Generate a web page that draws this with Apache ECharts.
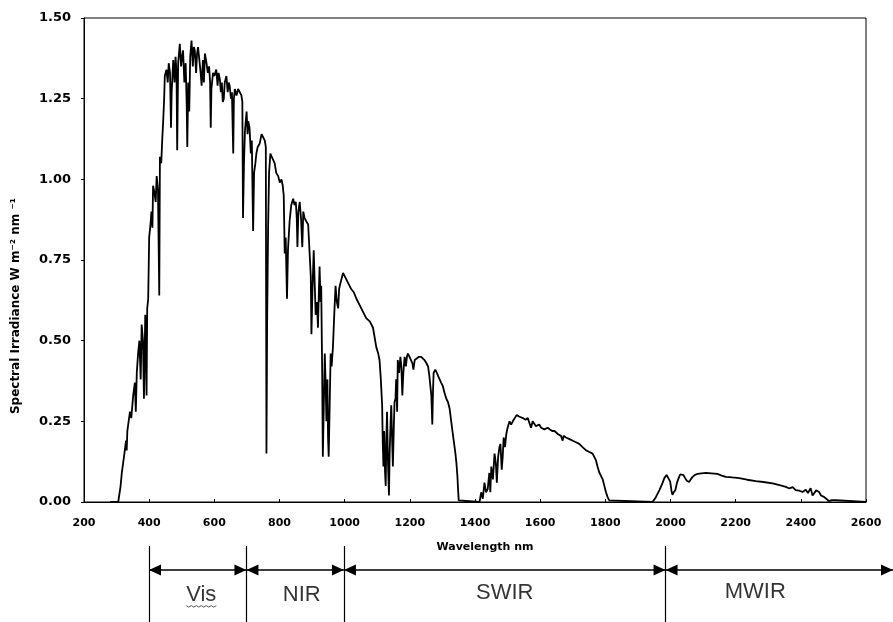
<!DOCTYPE html>
<html>
<head>
<meta charset="utf-8">
<title>Spectral irradiance</title>
<script src="https://cdn.jsdelivr.net/npm/echarts@6.0.0/dist/echarts.min.js"></script>
<style>
  html, body { margin: 0; padding: 0; background: #fff; }
  #main { width: 893px; height: 622px; }
</style>
</head>
<body>
<div id="main"></div>
<script>
// wavelength (nm) and spectral irradiance (W m-2 nm-1)
const wavelength = [
  280, 305, 312, 316, 320, 324, 329, 331, 333, 337, 341, 345, 351, 356, 359, 362, 366, 370, 374, 377,
  381, 384, 388, 392, 394, 397, 400, 404, 407, 410, 412, 416, 420, 423, 427, 431, 433, 437, 440, 443,
  446, 448, 453, 457, 460, 464, 467, 469, 474, 478, 481, 484, 486, 489, 494, 498, 501, 504, 508, 512,
  515, 517, 520, 523, 526, 530, 534, 537, 540, 544, 547, 550, 555, 558, 561, 565, 568, 571, 576, 580,
  584, 587, 589, 591, 596, 600, 606, 610, 613, 617, 620, 623, 626, 629, 632, 637, 641, 644, 647, 651,
  654, 658, 660, 663, 668, 673, 678, 683, 686, 688, 691, 694, 699, 702, 704, 708, 712, 715, 719, 722,
  726, 729, 733, 739, 745, 750, 755, 758, 760, 762, 765, 768, 772, 776, 780, 785, 790, 796, 801, 806,
  810, 813, 816, 819, 823, 826, 831, 836, 842, 846, 850, 853, 855, 858, 862, 866, 870, 873, 877, 882,
  888, 893, 896, 898, 901, 905, 908, 911, 915, 918, 921, 923, 926, 928, 931, 933, 936, 939, 942, 944,
  947, 949, 951, 954, 957, 960, 964, 968, 972, 976, 980, 983, 985, 990, 995, 1000, 1005, 1010, 1015, 1020,
  1028, 1036, 1046, 1056, 1066, 1077, 1087, 1092, 1097, 1103, 1107, 1111, 1115, 1117, 1119, 1121, 1124, 1126, 1128, 1130,
  1133, 1136, 1138, 1141, 1143, 1146, 1148, 1151, 1153, 1156, 1158, 1161, 1163, 1167, 1171, 1174, 1177, 1180, 1184, 1188,
  1191, 1194, 1199, 1204, 1208, 1211, 1215, 1220, 1228, 1235, 1240, 1245, 1251, 1256, 1260, 1263, 1266, 1269, 1271, 1273,
  1278, 1283, 1287, 1291, 1296, 1301, 1306, 1312, 1317, 1322, 1327, 1332, 1336, 1340, 1343, 1346, 1348, 1350, 1352, 1414,
  1419, 1424, 1429, 1434, 1439, 1444, 1447, 1450, 1455, 1460, 1464, 1467, 1471, 1475, 1478, 1482, 1485, 1488, 1492, 1496,
  1500, 1506, 1511, 1516, 1522, 1528, 1535, 1540, 1547, 1555, 1562, 1567, 1572, 1577, 1582, 1587, 1592, 1597, 1603, 1608,
  1613, 1618, 1623, 1630, 1637, 1644, 1650, 1655, 1659, 1664, 1669, 1672, 1679, 1685, 1690, 1695, 1700, 1710, 1720, 1730,
  1741, 1751, 1761, 1766, 1771, 1776, 1782, 1787, 1792, 1797, 1802, 1807, 1812, 1818, 1945, 1955, 1966, 1976, 1981, 1988,
  1993, 1999, 2003, 2006, 2010, 2015, 2020, 2025, 2030, 2035, 2040, 2045, 2050, 2057, 2062, 2068, 2075, 2083, 2095, 2109,
  2125, 2144, 2157, 2170, 2190, 2211, 2235, 2262, 2285, 2313, 2335, 2354, 2365, 2375, 2384, 2395, 2405, 2415, 2422, 2430,
  2436, 2440, 2447, 2452, 2456, 2462, 2471, 2478, 2486, 2495, 2507, 2512, 2600
];
const irradiance = [
  0, 0, 0.047, 0.09, 0.12, 0.15, 0.19, 0.16, 0.22, 0.25, 0.28, 0.26, 0.33, 0.37, 0.28, 0.40, 0.46, 0.50, 0.38, 0.55,
  0.50, 0.32, 0.58, 0.33, 0.60, 0.63, 0.82, 0.86, 0.90, 0.85, 0.98, 0.96, 0.93, 1.01, 0.97, 0.64, 1.07, 1.05, 1.12, 1.18,
  1.25, 1.32, 1.34, 1.30, 1.36, 1.33, 1.16, 1.27, 1.37, 1.30, 1.38, 1.33, 1.09, 1.36, 1.42, 1.35, 1.38, 1.40, 1.30, 1.36,
  1.24, 1.10, 1.30, 1.21, 1.38, 1.43, 1.35, 1.41, 1.40, 1.33, 1.39, 1.41, 1.36, 1.33, 1.29, 1.37, 1.30, 1.39, 1.36, 1.33,
  1.35, 1.30, 1.16, 1.28, 1.33, 1.32, 1.34, 1.29, 1.33, 1.31, 1.27, 1.30, 1.24, 1.25, 1.30, 1.32, 1.27, 1.30, 1.29, 1.25,
  1.27, 1.08, 1.25, 1.28, 1.26, 1.28, 1.27, 1.26, 1.24, 0.88, 1.05, 1.15, 1.21, 1.14, 1.18, 1.16, 1.08, 1.12, 0.84, 1.02,
  1.05, 1.08, 1.10, 1.11, 1.14, 1.13, 1.12, 1.10, 0.15, 0.55, 0.85, 1.02, 1.08, 1.07, 1.07, 1.05, 1.02, 1.01, 0.99, 1.00,
  0.98, 0.95, 0.77, 0.82, 0.63, 0.78, 0.87, 0.92, 0.94, 0.92, 0.93, 0.88, 0.79, 0.90, 0.93, 0.88, 0.79, 0.90, 0.88, 0.87,
  0.86, 0.86, 0.70, 0.52, 0.65, 0.78, 0.68, 0.58, 0.62, 0.54, 0.66, 0.73, 0.62, 0.67, 0.40, 0.14, 0.30, 0.46, 0.35, 0.25,
  0.38, 0.20, 0.14, 0.30, 0.46, 0.42, 0.48, 0.58, 0.67, 0.62, 0.60, 0.66, 0.67, 0.69, 0.71, 0.70, 0.69, 0.68, 0.67, 0.66,
  0.65, 0.63, 0.61, 0.59, 0.57, 0.56, 0.54, 0.51, 0.48, 0.46, 0.44, 0.38, 0.30, 0.18, 0.11, 0.22, 0.09, 0.05, 0.20, 0.28,
  0.12, 0.02, 0.15, 0.25, 0.30, 0.18, 0.11, 0.24, 0.31, 0.32, 0.38, 0.28, 0.44, 0.40, 0.45, 0.42, 0.33, 0.40, 0.45, 0.42,
  0.45, 0.46, 0.45, 0.45, 0.43, 0.41, 0.44, 0.44, 0.45, 0.45, 0.445, 0.44, 0.43, 0.42, 0.39, 0.36, 0.33, 0.24, 0.34, 0.40,
  0.41, 0.40, 0.39, 0.39, 0.37, 0.36, 0.34, 0.32, 0.31, 0.29, 0.25, 0.21, 0.18, 0.15, 0.12, 0.08, 0.04, 0.005, 0, 0,
  0.03, 0.01, 0.06, 0.03, 0.04, 0.09, 0.03, 0.11, 0.07, 0.15, 0.12, 0.06, 0.14, 0.17, 0.18, 0.10, 0.14, 0.20, 0.17, 0.21,
  0.23, 0.25, 0.24, 0.25, 0.26, 0.27, 0.265, 0.26, 0.26, 0.255, 0.26, 0.245, 0.23, 0.25, 0.245, 0.235, 0.24, 0.24, 0.23, 0.235,
  0.225, 0.23, 0.23, 0.225, 0.22, 0.22, 0.215, 0.21, 0.21, 0.205, 0.19, 0.205, 0.20, 0.195, 0.195, 0.19, 0.19, 0.185, 0.18, 0.17,
  0.16, 0.155, 0.15, 0.14, 0.13, 0.11, 0.09, 0.08, 0.07, 0.05, 0.03, 0.015, 0.005, 0, 0, 0.015, 0.037, 0.06, 0.074, 0.084,
  0.08, 0.063, 0.035, 0.022, 0.03, 0.037, 0.06, 0.074, 0.086, 0.09, 0.083, 0.074, 0.066, 0.062, 0.07, 0.078, 0.084, 0.087, 0.089, 0.09,
  0.089, 0.087, 0.082, 0.078, 0.076, 0.074, 0.069, 0.065, 0.062, 0.058, 0.052, 0.047, 0.042, 0.046, 0.037, 0.035, 0.031, 0.038, 0.028, 0.043,
  0.02, 0.016, 0.036, 0.03, 0.031, 0.02, 0.016, 0.01, 0.003, 0.006, 0.006, 0, 0
];

// spectral regions drawn under the axis
const bandNames = ['Vis', 'NIR', 'SWIR', 'MWIR'];
const bandStart = [400, 700, 1000, 1990];
const bandEnd = [700, 1000, 1990, 2690];
const bandCenters = [561, 870, 1495, 2266];
const bandLabelLevel = [0.36, 0.36, 0.38, 0.40];
const arrowLevel = 0.684;

const xMin = 200, xMax = 2600, xStep = 200;
const yMin = 0, yMax = 1.5, yStep = 0.25;

const font = 'DejaVu Sans';
const chart = echarts.init(document.getElementById('main'));

// arrow head sitting with its tip on the end point
const head = { symbol: 'triangle', symbolSize: [11, 12], symbolOffset: [0, 6] };

chart.setOption({
  animation: false,
  textStyle: { fontFamily: font, color: '#000' },
  grid: [
    { left: 84, right: 27, top: 18, bottom: 120, show: true, borderColor: '#000', borderWidth: 1 },
    { left: 84, width: 811, top: 546, height: 76 }
  ],
  xAxis: [{
    type: 'value',
    min: xMin,
    max: xMax,
    interval: xStep,
    name: 'Wavelength nm',
    nameLocation: 'middle',
    nameGap: 40,
    nameTextStyle: { fontSize: 11, fontWeight: 'bold', color: '#000', padding: [0, 0, 0, 20] },
    axisLine: { lineStyle: { color: '#000', width: 1 } },
    axisTick: { inside: true, length: 3, lineStyle: { color: '#000' } },
    axisLabel: { fontSize: 11, fontWeight: 'bold', color: '#000', margin: 16, formatter: v => String(v) },
    splitLine: { show: false }
  }, {
    type: 'value',
    gridIndex: 1,
    min: xMin,
    max: 2690,
    show: false
  }],
  yAxis: [{
    type: 'value',
    min: yMin,
    max: yMax,
    interval: yStep,
    name: 'Spectral Irradiance W m\u207B\u00B2 nm \u207B\u00B9',
    nameLocation: 'middle',
    nameRotate: 90,
    nameGap: 62,
    nameTextStyle: { fontSize: 12, fontWeight: 'bold', color: '#000', padding: [0, 92, 0, 0] },
    axisLine: { show: true, lineStyle: { color: '#000', width: 1 } },
    axisTick: { show: true, length: 3, lineStyle: { color: '#000' } },
    axisLabel: { fontSize: 13, fontWeight: 'bold', color: '#000', margin: 13, formatter: v => v.toFixed(2) },
    splitLine: { show: false }
  }, {
    type: 'value',
    gridIndex: 1,
    min: 0,
    max: 1,
    show: false
  }],
  series: [{
    name: 'Irradiance',
    type: 'line',
    showSymbol: false,
    symbol: 'none',
    lineStyle: { color: '#000', width: 1.8 },
    data: wavelength.map((w, i) => [w, irradiance[i]])
  }, {
    name: 'edges',
    type: 'lines',
    coordinateSystem: 'cartesian2d',
    xAxisIndex: 1,
    yAxisIndex: 1,
    silent: true,
    lineStyle: { color: '#000', width: 1.2, opacity: 1 },
    data: bandStart.map(s => ({ coords: [[s, 0], [s, 1]] }))
  }, {
    name: 'bands',
    type: 'scatter',
    xAxisIndex: 1,
    yAxisIndex: 1,
    symbolSize: 0,
    clip: false,
    silent: true,
    label: {
      show: true,
      position: 'inside',
      fontFamily: 'Liberation Sans',
      fontSize: 22,
      color: '#000',
      formatter: p => p.value[2]
    },
    data: bandNames.map((n, i) => [bandCenters[i], bandLabelLevel[i], n]),
    markLine: {
      silent: true,
      label: { show: false },
      lineStyle: { color: '#000', type: 'solid', width: 1.5 },
      itemStyle: { color: '#000' },
      data: bandStart.map((s, i) => [
        Object.assign({ coord: [s, arrowLevel] }, head),
        Object.assign({ coord: [bandEnd[i], arrowLevel] }, head)
      ])
    }
  }]
});

// spell-check squiggle under "Vis"
const vp = chart.convertToPixel({ xAxisIndex: 1, yAxisIndex: 1 }, [bandCenters[0], bandLabelLevel[0]]);
const squiggle = [];
for (let i = 0; i <= 12; i++) {
  squiggle.push([vp[0] - 15 + i * 2.5, vp[1] + 11 + (i % 2 ? 1.5 : 0)]);
}
chart.setOption({
  graphic: [{
    type: 'polyline',
    silent: true,
    shape: { points: squiggle },
    style: { stroke: '#555', fill: null, lineWidth: 1 }
  }]
});
</script>
</body>
</html>
